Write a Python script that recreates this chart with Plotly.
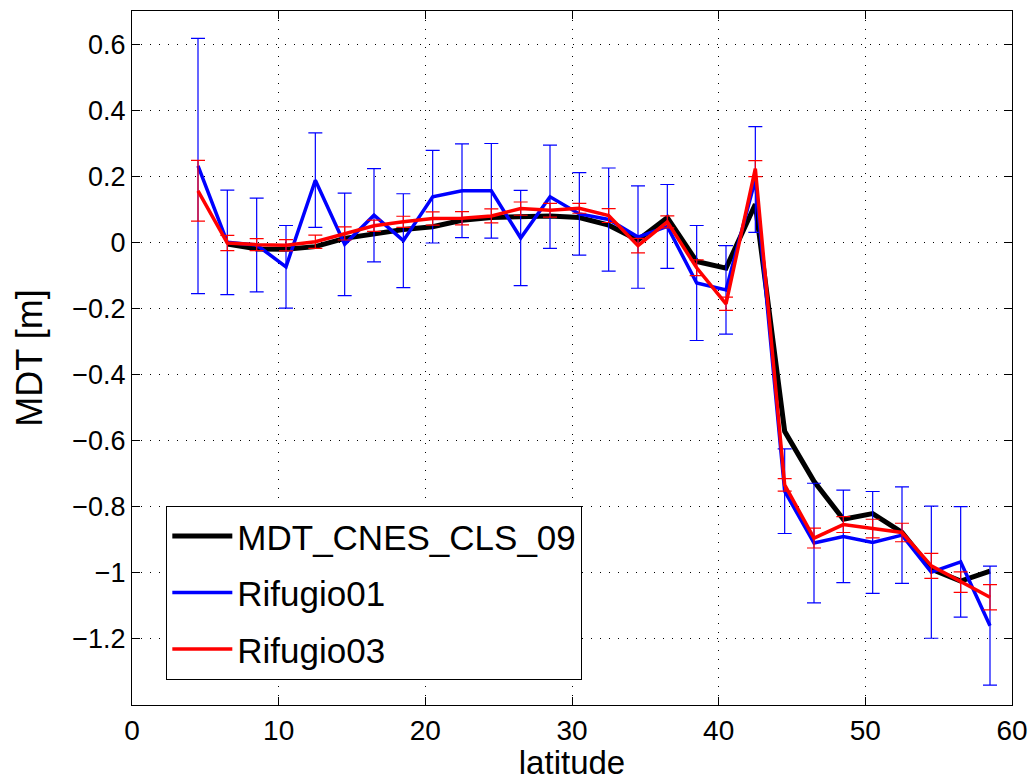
import plotly.graph_objects as go

latitude = [4.5, 6.5, 8.5, 10.5, 12.5, 14.5, 16.5, 18.5, 20.5, 22.5, 24.5, 26.5, 28.5, 30.5,
            32.5, 34.5, 36.5, 38.5, 40.5, 42.5, 44.5, 46.5, 48.5, 50.5, 52.5, 54.5, 56.5, 58.5]

mdt_cnes = [None, -0.005, -0.02, -0.021, -0.013, 0.012, 0.025, 0.039, 0.047, 0.067, 0.075, 0.077, 0.08, 0.075,
            0.052, 0.007, 0.075, -0.058, -0.078, 0.115, -0.572, -0.723, -0.838, -0.821, -0.878, -0.989, -1.025, -0.995]

rif01 = [0.231, 0.0, -0.008, -0.074, 0.188, -0.006, 0.082, 0.005, 0.138, 0.156, 0.156, 0.013, 0.138, 0.086,
         0.069, 0.016, 0.048, -0.123, -0.144, 0.19, -0.753, -0.91, -0.89, -0.908, -0.886, -0.998, -0.967, -1.16]
rif01_err = [0.386, 0.158, 0.142, 0.125, 0.143, 0.155, 0.141, 0.142, 0.14, 0.142, 0.143, 0.144, 0.156, 0.125,
             0.156, 0.155, 0.127, 0.174, 0.134, 0.16, 0.128, 0.181, 0.14, 0.154, 0.146, 0.2, 0.167, 0.18]

rif03 = [0.156, -0.002, -0.007, -0.009, 0.002, 0.027, 0.05, 0.062, 0.072, 0.073, 0.08, 0.102, 0.097, 0.103,
         0.081, -0.01, 0.062, -0.077, -0.186, 0.223, -0.734, -0.895, -0.854, -0.866, -0.878, -0.979, -1.028, -1.074]
rif03_err = [0.092, 0.023, 0.018, 0.017, 0.02, 0.02, 0.017, 0.017, 0.02, 0.02, 0.021, 0.02, 0.021, 0.015,
             0.021, 0.022, 0.018, 0.024, 0.02, 0.024, 0.019, 0.03, 0.024, 0.028, 0.028, 0.038, 0.031, 0.038]

x_ticks = [0, 10, 20, 30, 40, 50, 60]
y_ticks = [-1.2, -1.0, -0.8, -0.6, -0.4, -0.2, 0, 0.2, 0.4, 0.6]
y_tick_text = ["\u22121.2", "\u22121", "\u22120.8", "\u22120.6", "\u22120.4", "\u22120.2", "0", "0.2", "0.4", "0.6"]

FONT = "Liberation Sans, Arial"

fig = go.Figure()
fig.add_trace(go.Scatter(
    x=latitude, y=mdt_cnes, mode="lines", name="MDT_CNES_CLS_09",
    line=dict(color="black", width=5), legendgroup="a", connectgaps=False))
fig.add_trace(go.Scatter(
    x=latitude, y=rif01, mode="lines", name="Rifugio01",
    line=dict(color="rgb(0,0,255)", width=3.5), legendgroup="b",
    error_y=dict(type="data", array=rif01_err, visible=True, color="rgb(0,0,255)", thickness=1.2, width=7)))
fig.add_trace(go.Scatter(
    x=latitude, y=rif03, mode="lines", name="Rifugio03",
    line=dict(color="rgb(255,0,0)", width=3.5), legendgroup="c",
    error_y=dict(type="data", array=rif03_err, visible=True, color="rgb(255,0,0)", thickness=1.2, width=7)))

axis_common = dict(
    showline=True, linecolor="black", linewidth=1, mirror="allticks",
    ticks="inside", ticklen=8, tickcolor="black", tickwidth=1,
    showgrid=True, gridcolor="black", gridwidth=1, griddash="1px,8px",
    zeroline=False, automargin=False,
)

fig.update_xaxes(range=[0, 60], tickvals=x_ticks, ticktext=[str(v) for v in x_ticks],
                 tickfont=dict(family=FONT, size=28, color="black"),
                 title=dict(text="latitude", font=dict(family=FONT, size=33, color="black"),
                            standoff=5),
                 **axis_common)
fig.update_yaxes(range=[-1.4, 0.7], tickvals=y_ticks, ticktext=y_tick_text,
                 tickfont=dict(family=FONT, size=27, color="black"),
                 title=dict(text="MDT [m]", font=dict(family=FONT, size=36, color="black"),
                            standoff=18),
                 **axis_common)

fig.update_layout(
    width=1036, height=781,
    margin=dict(l=132, r=24, t=11, b=76),
    paper_bgcolor="white", plot_bgcolor="white",
    showlegend=True,
    legend=dict(x=0.039, y=0.287, xanchor="left", yanchor="top",
                bgcolor="white", bordercolor="black", borderwidth=1,
                font=dict(family=FONT, size=35, color="black"),
                traceorder="grouped", tracegroupgap=8, itemwidth=60),
)

fig.write_html("out.html", config={"displayModeBar": False},
               post_script="document.body.style.margin='0';document.body.style.overflow='hidden';")
